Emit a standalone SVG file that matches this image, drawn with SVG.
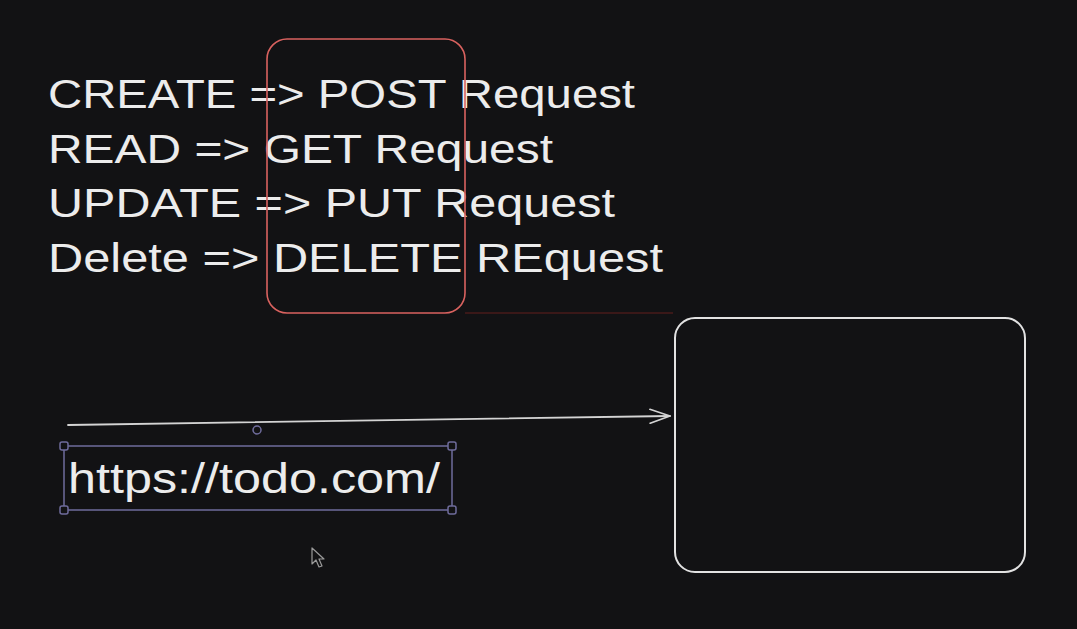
<svg xmlns="http://www.w3.org/2000/svg" width="1077" height="629" viewBox="0 0 1077 629">
  <defs>
    <style>
      .txt { font-family: "Liberation Sans", "DejaVu Sans", sans-serif; font-size: 41px; fill: #ececec; }
      .url { font-family: "Liberation Sans", "DejaVu Sans", sans-serif; font-size: 42px; fill: #ececec; }
      .sel { fill: none; stroke: #6f6c9c; stroke-width: 1.5; }
      .handle { fill: #121214; stroke: #6f6c9c; stroke-width: 1.5; }
    </style>
    <marker id="arrow" markerWidth="24" markerHeight="16" refX="22" refY="8" orient="auto" markerUnits="userSpaceOnUse">
      <path d="M2,1 L22,8 L2,15" fill="none" stroke="#d4d4d4" stroke-width="1.6" stroke-linecap="round" stroke-linejoin="round"/>
    </marker>
  </defs>
  <rect width="1077" height="629" fill="#121214"/>

  <g id="crud-text">
    <text class="txt" x="48" y="108" textLength="587" lengthAdjust="spacingAndGlyphs">CREATE =&gt; POST Request</text>
    <text class="txt" x="48" y="163" textLength="505" lengthAdjust="spacingAndGlyphs">READ =&gt; GET Request</text>
    <text class="txt" x="48" y="217" textLength="567" lengthAdjust="spacingAndGlyphs">UPDATE =&gt; PUT Request</text>
    <text class="txt" x="48" y="272" textLength="615" lengthAdjust="spacingAndGlyphs">Delete =&gt; DELETE REquest</text>
  </g>

  <g id="method-highlight">
    <rect x="267" y="39" width="198" height="274" rx="20" ry="20" fill="none" stroke="#d9625f" stroke-width="1.6"/>
    <line x1="465" y1="313" x2="673" y2="313" stroke="#3a1818" stroke-width="2"/>
  </g>

  <g id="server-box">
    <rect x="675" y="318" width="350" height="254" rx="20" ry="20" fill="none" stroke="#e2e2e2" stroke-width="2"/>
  </g>

  <g id="url-node">
    <text class="url" x="68" y="493" textLength="372" lengthAdjust="spacingAndGlyphs">https://todo.com/</text>
    <rect class="sel" x="64" y="446" width="388" height="64"/>
    <rect class="handle" x="60" y="442" width="8" height="8" rx="2"/>
    <rect class="handle" x="448" y="442" width="8" height="8" rx="2"/>
    <rect class="handle" x="60" y="506" width="8" height="8" rx="2"/>
    <rect class="handle" x="448" y="506" width="8" height="8" rx="2"/>
    <circle class="handle" cx="257" cy="430" r="4"/>
  </g>

  <g id="connectors">
    <line x1="68" y1="425" x2="670" y2="416" stroke="#d4d4d4" stroke-width="1.8" stroke-linecap="round" marker-end="url(#arrow)"/>
  </g>

  <g id="cursor">
    <path d="M312,548 L312,564 L316,560 L319,567 L322,566 L319,559 L324,559 Z" fill="#121214" stroke="#9a9a9a" stroke-width="1.2" stroke-linejoin="round"/>
  </g>
</svg>
